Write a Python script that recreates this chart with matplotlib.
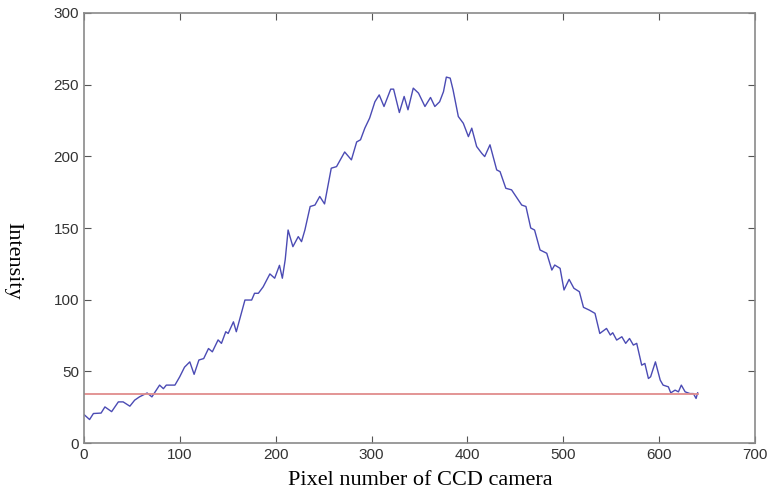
import matplotlib
matplotlib.use("Agg")
import matplotlib.pyplot as plt

# intensity profile along the CCD line (pixel index, intensity)
pixel = [0, 1, 6, 10, 18, 22, 29, 36, 41, 48, 53, 58, 66, 71, 79, 83, 86, 95,
         100, 105, 110.5, 115, 120, 125, 130, 134, 140, 143.5, 148, 150.5, 156,
         159, 168, 175, 178, 182, 187, 194, 199, 204, 207, 210, 213, 218, 223.6,
         227, 230.5, 236, 241, 246, 251, 258, 263.5, 272, 279, 284.5, 288.5, 293,
         298, 303.5, 308, 313, 320, 323, 329, 334, 338, 343.5, 349, 355.7, 361.5,
         366, 371, 375, 378, 382, 385, 390.5, 395.7, 401, 404.5, 409.6, 415, 418,
         423.5, 430.5, 434, 440, 446, 450.6, 456.6, 461, 466, 470, 475.7, 482.7,
         488, 491, 496.6, 500.7, 506, 511, 516.7, 521, 527, 533, 538, 545, 549,
         551.5, 555.6, 561, 565, 569, 573, 576.5, 581.7, 585, 588.7, 591, 596,
         601, 604, 609.5, 612, 616.5, 620, 623, 627, 632, 635.6, 638.4, 640]
intensity = [20, 19.5, 16.5, 20.7, 21, 25.3, 22, 28.8, 28.8, 25.8, 30, 32.3, 35,
             32.3, 40.5, 38, 40.5, 40.5, 46.3, 53, 56.7, 48, 58, 59, 66, 63.7, 72,
             69.6, 77.7, 76.5, 84.6, 77.7, 99.8, 99.8, 104.5, 104.5, 109, 118, 115,
             124, 115, 128, 148.6, 137, 144, 140.5, 148.6, 165, 166, 172, 166.8,
             191.7, 192.8, 203, 197.5, 210, 211.5, 219.6, 226.6, 238, 242.8, 234.7,
             246.8, 246.8, 230.5, 241.7, 232.4, 247.5, 244, 234.7, 241, 234.7, 238,
             245, 255.2, 254.5, 246.3, 227.7, 223, 213.7, 219.6, 206.8, 202, 199.8,
             208, 190.5, 189.3, 177.7, 176.6, 172, 166, 165, 150, 148.6, 134.7,
             132.4, 120.7, 124.2, 121.9, 106.8, 114.2, 108, 105.6, 94.7, 92.8, 90.5,
             76.5, 80, 75.4, 77, 71.9, 74.2, 69.6, 73, 68.4, 69.6, 54.4, 55.6, 45.1,
             46.3, 56.7, 44, 40.5, 39.3, 35.1, 37, 35.8, 40.5, 35.8, 34.6, 34.6,
             31.2, 35.1]

threshold = 34
threshold_span = [0, 640]

fig = plt.figure(figsize=(7.69, 4.93), dpi=100)
ax = fig.add_axes([0.109, 0.101, 0.873, 0.873])

ax.plot(pixel, intensity, color="#4b4bb4", linewidth=1.0)
ax.plot(threshold_span, [threshold, threshold], color="#e08c8c", linewidth=1.3)

ax.set_xlim(0, 700)
ax.set_ylim(0, 300)
ax.set_xticks(range(0, 701, 100))
ax.set_yticks(range(0, 301, 50))

for side in ax.spines.values():
    side.set_color("#8a8a8a")
    side.set_linewidth(1.2)
ax.tick_params(direction="in", top=True, right=True, length=5, width=0.8,
               color="#555555", labelcolor="#333333", labelsize=11)
for lbl in ax.get_xticklabels() + ax.get_yticklabels():
    lbl.set_family("Liberation Sans")

fig.text(0.546, 0.026, "Pixel number of CCD camera", ha="center", va="center",
         family="Liberation Serif", fontsize=16)
fig.text(0.017, 0.47, "Intensity", ha="center", va="center", rotation=270,
         family="Liberation Serif", fontsize=16)

fig.savefig("out.png", dpi=100)
